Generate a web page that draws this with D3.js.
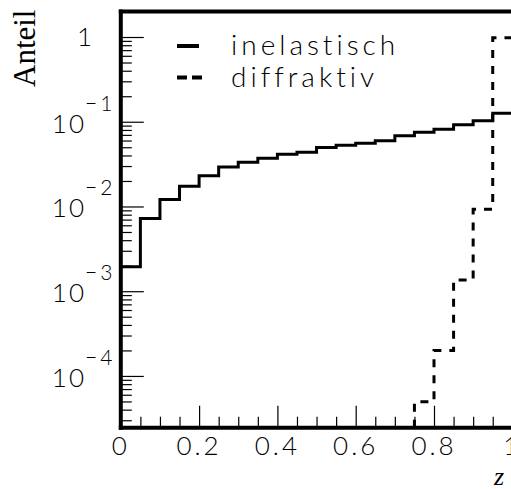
<!DOCTYPE html>
<html>
<head>
<meta charset="utf-8">
<script src="https://cdn.jsdelivr.net/npm/d3@7"></script>
<style>
  body { margin: 0; background: #fff; }
  svg { display: block; }
  .lbl { font-family: Lato, "DejaVu Sans", sans-serif; font-weight: 300; fill: #000; }
</style>
</head>
<body>
<div id="chart"></div>
<script>

// bin lower edges in z (width 0.05)
const zBins = [0, 0.05, 0.1, 0.15, 0.2, 0.25, 0.3, 0.35, 0.4, 0.45,
               0.5, 0.55, 0.6, 0.65, 0.7, 0.75, 0.8, 0.85, 0.9, 0.95]
const binWidth = 0.05

// fraction per bin
const inelastisch = [1.95e-3, 7.2e-3, 1.21e-2, 1.73e-2, 2.31e-2, 2.92e-2, 3.32e-2, 3.71e-2, 4.13e-2, 4.36e-2,
                     4.97e-2, 5.27e-2, 5.57e-2, 5.97e-2, 6.84e-2, 7.51e-2, 8.15e-2, 9.23e-2, 0.103, 0.126]
const diffraktiv  = [0, 0, 0, 0, 0, 0, 0, 0, 0, 0,
                     0, 0, 0, 0, 0, 4.97e-5, 1.99e-4, 1.36e-3, 9.27e-3, 0.98]

const legendNames = ["inelastisch", "diffraktiv"]
const xTickLabels = [0, 0.2, 0.4, 0.6, 0.8, 1]
const yTickLabels = [1, 1e-1, 1e-2, 1e-3, 1e-4]

// layout
const W = 511, H = 489
const plot = {left: 120.8, right: 512.3, top: 11.5, bottom: 427.7}

const svg = d3.select("#chart").append("svg")
    .attr("width", W)
    .attr("height", H)

const x = d3.scaleLinear()
    .domain([0, 1])
    .range([plot.left, plot.right])

const y = d3.scaleLog()
    .domain([2.45e-5, 2])
    .range([plot.bottom, plot.top])

// x ticks: every 0.05, long ones at the labelled values
const xMinor = zBins.concat([1]).filter(v => xTickLabels.indexOf(v) < 0)
svg.append("g")
    .attr("transform", `translate(0,${plot.bottom})`)
    .call(d3.axisBottom(x).tickValues(xMinor).tickSize(-11).tickFormat(""))
svg.append("g")
    .attr("transform", `translate(0,${plot.bottom})`)
    .call(d3.axisBottom(x).tickValues(xTickLabels).tickSize(-22).tickFormat(""))

// y ticks: log minor ticks
const yMinor = []
for (let e = -5; e <= 0; e++) {
    for (let m = 2; m <= 9; m++) {
        const v = m * Math.pow(10, e)
        if (v >= y.domain()[0] && v <= y.domain()[1]) yMinor.push(v)
    }
}
svg.append("g")
    .attr("transform", `translate(${plot.left},0)`)
    .call(d3.axisLeft(y).tickValues(yMinor).tickSize(-11).tickFormat(""))
svg.append("g")
    .attr("transform", `translate(${plot.left},0)`)
    .call(d3.axisLeft(y).tickValues(yTickLabels).tickSize(-23).tickFormat(""))

svg.selectAll(".domain").remove()
svg.selectAll(".tick line").attr("stroke", "#000").attr("stroke-width", 1.2)

// frame
const frame = svg.append("g").attr("stroke", "#000").attr("stroke-width", 4).attr("fill", "none")
frame.append("line").attr("x1", plot.left).attr("x2", plot.left).attr("y1", plot.top - 2).attr("y2", plot.bottom + 2)
frame.append("line").attr("x1", plot.left - 2).attr("x2", W + 5).attr("y1", plot.bottom).attr("y2", plot.bottom)
frame.append("line").attr("x1", plot.left - 2).attr("x2", W + 5).attr("y1", plot.top).attr("y2", plot.top)

// x tick labels (the "1" at z=1 sits on the window edge, as in the original)
svg.append("g").selectAll("text")
    .data(xTickLabels)
    .join("text")
    .attr("class", "lbl")
    .attr("x", d => x(d))
    .attr("y", 455)
    .attr("text-anchor", "middle")
    .style("font-size", "26px")
    .style("letter-spacing", "3px")
    .text(d => d === 0 || d === 1 ? String(d) : d3.format(".1f")(d))

// y tick labels
const yl = svg.append("g")
yTickLabels.forEach(v => {
    const ty = y(v)
    if (v === 1) {
        yl.append("text").attr("class", "lbl")
            .attr("x", 92).attr("y", ty + 9)
            .attr("text-anchor", "end")
            .style("font-size", "26px")
            .text("1")
    } else {
        const e = Math.round(Math.log10(v))
        yl.append("text").attr("class", "lbl")
            .attr("x", 86).attr("y", ty + 11)
            .attr("text-anchor", "end")
            .style("font-size", "26px")
            .style("letter-spacing", "2px")
            .text("10")
        yl.append("text").attr("class", "lbl")
            .attr("x", 85).attr("y", ty - 11)
            .style("font-size", "21px")
            .style("letter-spacing", "3px")
            .text("\u2212" + Math.abs(e))
    }
})

// histograms as step lines
function stepPoints(vals, startFromBottom) {
    const pts = []
    let started = false
    vals.forEach((v, i) => {
        if (v <= 0) return
        const x0 = zBins[i], x1 = zBins[i] + binWidth
        if (!started) {
            if (startFromBottom) pts.push([x(x0), plot.bottom])
            started = true
        }
        pts.push([x(x0), y(v)], [x(x1), y(v)])
    })
    return pts
}

const line = d3.line()

svg.append("path")
    .attr("d", line(stepPoints(inelastisch, false)))
    .attr("fill", "none")
    .attr("stroke", "#000")
    .attr("stroke-width", 3)

svg.append("path")
    .attr("d", line(stepPoints(diffraktiv, true)))
    .attr("fill", "none")
    .attr("stroke", "#000")
    .attr("stroke-width", 3)
    .attr("stroke-dasharray", "8,8")

// legend
const legend = svg.append("g")
legendNames.forEach((name, i) => {
    const ly = 46 + i * 31.5
    legend.append("line")
        .attr("x1", 177).attr("x2", i === 0 ? 199 : 202)
        .attr("y1", ly).attr("y2", ly)
        .attr("stroke", "#000")
        .attr("stroke-width", 4)
        .attr("stroke-dasharray", i === 0 ? null : "10,5")
    legend.append("text")
        .attr("class", "lbl")
        .attr("x", 231)
        .attr("y", ly + 9)
        .style("font-size", "28px")
        .style("letter-spacing", "4px")
        .text(name)
})

// axis titles
svg.append("text")
    .attr("transform", "translate(35,87) rotate(-90)")
    .style("font-family", "'Liberation Serif', 'Times New Roman', serif")
    .style("font-size", "31px")
    .text("Anteil")

svg.append("text")
    .attr("x", 494)
    .attr("y", 485)
    .style("font-family", "'Liberation Serif', 'Times New Roman', serif")
    .style("font-style", "italic")
    .style("font-size", "26px")
    .text("z")

</script>
</body>
</html>
